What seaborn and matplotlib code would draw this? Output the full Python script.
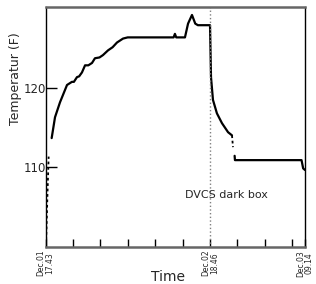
import numpy as np
import pandas as pd
import matplotlib
matplotlib.use("Agg")
import matplotlib.pyplot as plt
import seaborn as sns

# hours since Dec.01 17:43
t_start = [0.05, 0.25, 0.45]
T_start = [100.0, 106.0, 111.3]

t_main = [0.91, 1.42, 2.18, 3.25, 4.0, 4.3, 4.77, 5.1, 5.53, 6.0, 6.5, 7.06, 7.51,
          8.2, 8.73, 9.5, 10.2, 10.87, 11.79, 12.5, 19.5, 19.7, 19.9, 21.23,
          21.7, 22.3, 22.8, 23.2, 25.05, 25.2, 25.5, 26.1, 26.87, 27.8, 28.4]
T_main = [113.65, 116.3, 118.2, 120.4, 120.8, 120.8, 121.4, 121.5, 122.0, 122.9, 122.9,
          123.2, 123.8, 123.9, 124.2, 124.8, 125.2, 125.8, 126.3, 126.45, 126.45, 126.9,
          126.45, 126.45, 128.2, 129.3, 128.2, 128.0, 128.0, 121.4, 118.5, 116.8,
          115.55, 114.4, 114.0]

t_drop = [28.4, 28.55]
T_drop = [114.0, 112.5]

t_end = [28.8, 28.85, 39.0, 39.25, 39.52]
T_end = [111.4, 110.85, 110.85, 109.8, 109.6]

t_box = 25.05     # Dec.02 18:46
t_last = 39.52    # Dec.03 09:14
tick_labels = {0.0: "Dec.01\n17.43", t_box: "Dec.02\n18.46", t_last: "Dec.03\n09.14"}

sns.set_style("white")
plt.rcParams["font.family"] = ["DejaVu Sans"]

fig = plt.figure(figsize=(3.16, 2.84), dpi=100)
ax = fig.add_axes([0.1446, 0.130, 0.8204, 0.845])

sns.lineplot(x=t_start, y=T_start, ax=ax, color="black", lw=1.3, linestyle=(0, (1.5, 1.5)), sort=False)
sns.lineplot(x=t_main, y=T_main, ax=ax, color="black", lw=1.6, sort=False)
sns.lineplot(x=t_drop, y=T_drop, ax=ax, color="black", lw=1.3, linestyle=(0, (1.5, 1.5)), sort=False)
sns.lineplot(x=t_end, y=T_end, ax=ax, color="black", lw=1.6, sort=False)

ax.axvline(t_box, color="gray", lw=1, linestyle=":")
ax.text(27.6, 106.4, "DVCS dark box", fontsize=8, ha="center", va="center")

ax.set_xlim(0, t_last)
ax.set_ylim(99.8, 130.3)

step = t_box / 6
xt = [i * step for i in range(10)] + [t_last]
ax.set_xticks(xt)
labels = []
for v in xt:
    lab = ""
    for k, s in tick_labels.items():
        if abs(v - k) < 0.01:
            lab = s
    labels.append(lab)
ax.set_xticklabels(labels, rotation=90, fontsize=5.5, linespacing=1.0)
ax.set_yticks([110, 120])
ax.set_yticklabels(["110", "120"], fontsize=8.5)
ax.tick_params(axis="x", direction="in", length=6, width=1, color="black", pad=2, bottom=True)
ax.tick_params(axis="y", direction="in", length=8, width=1, color="black", pad=0, left=True)

ax.set_ylabel("Temperatur (F)", fontsize=9)
ax.yaxis.set_label_coords(-0.09, 0.70)
ax.set_xlabel("Time", fontsize=10)
ax.xaxis.set_label_coords(0.47, -0.095)

for side in ["left", "right"]:
    ax.spines[side].set_color("black")
    ax.spines[side].set_linewidth(1)
for side in ["top", "bottom"]:
    ax.spines[side].set_color("#666666")
    ax.spines[side].set_linewidth(1.8)

fig.savefig("out.png", dpi=100)
